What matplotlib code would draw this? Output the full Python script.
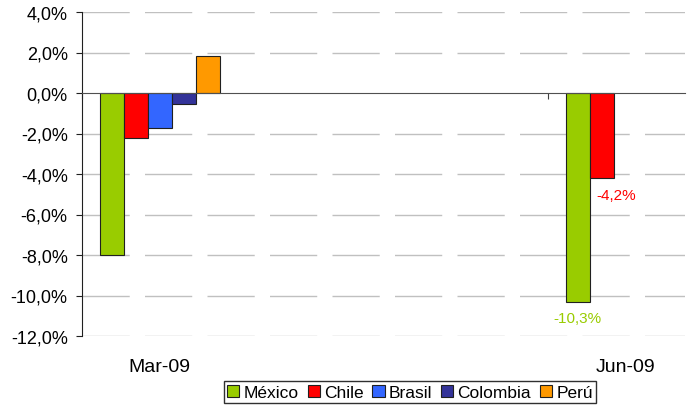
import numpy as np
import matplotlib
matplotlib.use('Agg')
import matplotlib.pyplot as plt
from matplotlib.ticker import FuncFormatter, FixedLocator
import matplotlib.transforms as mtransforms

plt.rcParams['font.family'] = ['Liberation Sans', 'DejaVu Sans']

# Data (percent)
periods = ['Mar-09', 'Jun-09']
countries = ['México', 'Chile', 'Brasil', 'Colombia', 'Perú']
colors = ['#99CC00', '#FF0000', '#3366FF', '#333399', '#FF9900']
mexico = [-8.0, -10.3]
chile = [-2.2, -4.2]
brasil = [-1.75, np.nan]
colombia = [-0.56, np.nan]
peru = [1.81, np.nan]
series = [mexico, chile, brasil, colombia, peru]
labeled = {'México': [None, '-10,3%'], 'Chile': [None, '-4,2%']}

group_pos = np.array([0.0, 1.0])
bar_w = 0.0515

fig = plt.figure(figsize=(6.95, 4.10), dpi=100)
ax = fig.add_axes([82 / 695, 1 - 337 / 410, 603 / 695, 324 / 410])

n = len(countries)
for i, (name, vals, col) in enumerate(zip(countries, series, colors)):
    x = group_pos + (i - (n - 1) / 2) * bar_w
    ax.bar(x, vals, width=bar_w, color=col, edgecolor='#202020', linewidth=0.8,
           label=name, zorder=3)
    if name in labeled:
        for xi, v, txt in zip(x, vals, labeled[name]):
            if txt is None:
                continue
            dx = 10 if name == 'Chile' else 0
            ax.annotate(txt, (xi, v), xytext=(dx, -12), textcoords='offset points',
                        ha='center', va='center', color=col, fontsize=11)

ax.set_ylim(-12, 4)
ax.set_xlim(-0.167, 1.127)
ax.set_yticks(np.arange(-12, 4.1, 2))
ax.yaxis.set_major_formatter(FuncFormatter(lambda v, p: f'{v:.1f}%'.replace('.', ',')))
ax.tick_params(axis='y', labelsize=13, length=4.3, pad=6, color='#202020')

# dashed gridlines
for yv in np.arange(-12, 4.1, 2):
    if yv == 0:
        continue
    ax.axhline(yv, color='#c0c0c0', lw=1, linestyle=(0, (34, 11)), zorder=1)

for s in ['top', 'right']:
    ax.spines[s].set_visible(False)
ax.spines['left'].set_color('#202020')
ax.spines['bottom'].set_position(('data', 0))
ax.spines['bottom'].set_color('#505050')
ax.spines['bottom'].set_zorder(4)

# boundary ticks on the zero line
ax.xaxis.set_major_locator(FixedLocator(group_pos - 1 / 6))
ax.xaxis.set_major_formatter(FuncFormatter(lambda v, p: ''))
ax.tick_params(axis='x', length=4.3, color='#404040')

# category labels at the bottom
trans = mtransforms.blended_transform_factory(ax.transData, ax.transAxes)
for gx, lab in zip(group_pos, periods):
    ax.text(gx, -0.095, lab, transform=trans, ha='center', va='center', fontsize=14)

fig.legend(loc='center', bbox_to_anchor=(0.59, 0.041), ncol=5, fontsize=12.5,
           handlelength=0.7, handleheight=0.7, handletextpad=0.25, columnspacing=0.5,
           borderpad=0.2, borderaxespad=0, fancybox=False, edgecolor='#303030',
           framealpha=1)

fig.savefig('out.png', dpi=100)
